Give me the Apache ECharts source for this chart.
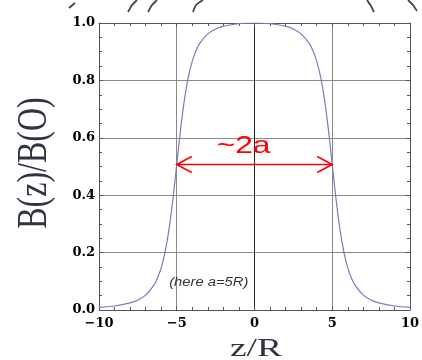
<!DOCTYPE html>
<html>
<head>
<meta charset="utf-8">
<script src="https://cdn.jsdelivr.net/npm/echarts@6/dist/echarts.min.js"></script>
<style>html,body{margin:0;padding:0;background:#fff;}#c{width:422px;height:360px;}</style>
</head>
<body>
<div id="c"></div>
<script>
// z/R positions and B(z)/B(0) values
const zValues = [-10,-9,-8,-7.5,-7,-6.5,-6.25,-6,-5.75,-5.5,-5.25,-5,-4.75,-4.5,-4.25,-4,-3.75,-3.5,-3,-2.5,-2,-1.5,-1,0,1,1.5,2,2.5,3,3.5,3.75,4,4.25,4.5,4.75,5,5.25,5.5,5.75,6,6.25,6.5,7,7.5,8,9,10];
const bValues = [0.009,0.014,0.025,0.035,0.052,0.084,0.110,0.147,0.202,0.280,0.384,0.507,0.631,0.735,0.813,0.867,0.905,0.931,0.962,0.979,0.989,0.994,0.998,1.000,0.998,0.994,0.989,0.979,0.962,0.931,0.905,0.867,0.813,0.735,0.631,0.507,0.384,0.280,0.202,0.147,0.110,0.084,0.052,0.035,0.025,0.014,0.009];
const xTickLabels = {'-10':'\u221210','-5':'\u22125','0':'0','5':'5','10':'10'};
const yTickLabels = ['0.0','0.2','0.4','0.6','0.8','1.0'];
// annotation: arrow spanning the width at half height
const arrowZ = [-5, 5];
const arrowB = [0.507];
const annoText = ['~2a', '(here a=5R)'];
const annoPos = [[-0.7, 0.571], [-2.94, 0.097]];

const curve = zValues.map((z, i) => [z, bValues[i]]);
const chart = echarts.init(document.getElementById('c'), null, {renderer: 'canvas'});

const tickFont = {fontFamily: 'DejaVu Serif', fontWeight: 'bold', fontSize: 13, color: '#000'};
const frame = {show: true, lineStyle: {color: '#555', width: 1}};

function stroke(points, sm) {
  return {type: 'polyline', shape: {points: points, smooth: sm}, style: {stroke: '#444', lineWidth: 1.8, fill: null}};
}

chart.setOption({
  animation: false,
  backgroundColor: '#fff',
  grid: {left: 99, right: 10, top: 23, bottom: 50, containLabel: false},
  xAxis: [{
    type: 'value', min: -10, max: 10, interval: 5,
    axisLine: Object.assign({onZero: false}, frame),
    axisTick: {show: true, inside: true, length: 4, lineStyle: {color: '#555'}},
    minorTick: {show: true, splitNumber: 5, length: 3, lineStyle: {color: '#555'}},
    splitLine: {show: true, lineStyle: {color: ['#888', '#888', '#222', '#888', '#888'], width: 1}},
    axisLabel: Object.assign({margin: 7, formatter: v => xTickLabels[String(v)]}, tickFont)
  }, {
    type: 'value', min: -10, max: 10, interval: 5, position: 'top',
    axisLine: Object.assign({onZero: false}, frame),
    axisTick: {show: true, inside: true, length: 4, lineStyle: {color: '#555'}},
    minorTick: {show: true, splitNumber: 5, length: 3, lineStyle: {color: '#555'}},
    splitLine: {show: false}, axisLabel: {show: false}
  }],
  yAxis: [{
    type: 'value', min: 0, max: 1, interval: 0.2,
    axisLine: Object.assign({onZero: false}, frame),
    axisTick: {show: true, inside: true, length: 4, lineStyle: {color: '#555'}},
    minorTick: {show: true, splitNumber: 4, length: 3, lineStyle: {color: '#555'}},
    splitLine: {show: true, lineStyle: {color: '#888', width: 1}},
    axisLabel: Object.assign({margin: 4, formatter: v => yTickLabels[Math.round(v * 5)]}, tickFont)
  }, {
    type: 'value', min: 0, max: 1, interval: 0.2, position: 'right',
    axisLine: Object.assign({onZero: false}, frame),
    axisTick: {show: true, inside: true, length: 4, lineStyle: {color: '#555'}},
    minorTick: {show: true, splitNumber: 4, length: 3, lineStyle: {color: '#555'}},
    splitLine: {show: false}, axisLabel: {show: false}
  }],
  graphic: [
    {type: 'text', x: 35, y: 163, rotation: Math.PI / 2, scaleY: 1.35,
     style: {text: 'B(z)/B(O)', font: '32px "Liberation Serif"', fill: '#2f3440', textAlign: 'center', textVerticalAlign: 'middle', verticalAlign: 'middle'}},
    {type: 'text', x: 256, y: 349, scaleX: 1.5,
     style: {text: 'z/R', font: '25px "Liberation Serif"', fill: '#2f3440', textAlign: 'center', textVerticalAlign: 'middle', verticalAlign: 'middle'}},
    stroke([[69, 8], [75, 3]], 0),
    stroke([[128, 12], [132, 5], [137, 0]], 0.1),
    stroke([[148, 12], [152, 5], [157, 0]], 0.1),
    stroke([[193, 12], [196, 5], [203, 0]], 0.2),
    stroke([[367, 0], [371, 6], [374, 12]], 0.1),
    stroke([[408, 0], [413, 5], [417, 11]], 0.1)
  ],
  series: [{
    type: 'line', data: curve, smooth: 0.3, showSymbol: false, symbol: 'none',
    lineStyle: {color: '#7a7abd', width: 1.2}, z: 3
  }, {
    type: 'custom', z: 4,
    data: [[arrowZ[0], arrowZ[1], arrowB[0]]],
    renderItem: function (params, api) {
      const p1 = api.coord([api.value(0), api.value(2)]);
      const p2 = api.coord([api.value(1), api.value(2)]);
      const st = {stroke: '#ff0000', lineWidth: 1.6, fill: null};
      return {type: 'group', children: [
        {type: 'line', shape: {x1: p1[0], y1: p1[1], x2: p2[0], y2: p2[1]}, style: st},
        {type: 'polyline', shape: {points: [[p1[0] + 15, p1[1] - 8], [p1[0], p1[1]], [p1[0] + 15, p1[1] + 8]]}, style: st},
        {type: 'polyline', shape: {points: [[p2[0] - 15, p2[1] - 8], [p2[0], p2[1]], [p2[0] - 15, p2[1] + 8]]}, style: st}
      ]};
    }
  }, {
    type: 'custom', z: 4,
    data: annoPos.map((p, i) => [p[0], p[1], i]),
    renderItem: function (params, api) {
      const p = api.coord([api.value(0), api.value(1)]);
      const i = api.value(2);
      const big = i === 0;
      return {type: 'text', x: p[0], y: p[1], scaleX: big ? 1.32 : 1.23,
        style: {text: annoText[i],
          font: big ? '24px "Liberation Sans"' : 'italic 12px "Liberation Sans"',
          fill: big ? '#ff0000' : '#333', textAlign: 'center', textVerticalAlign: 'middle', verticalAlign: 'middle'}};
    }
  }]
});
</script>
</body>
</html>
